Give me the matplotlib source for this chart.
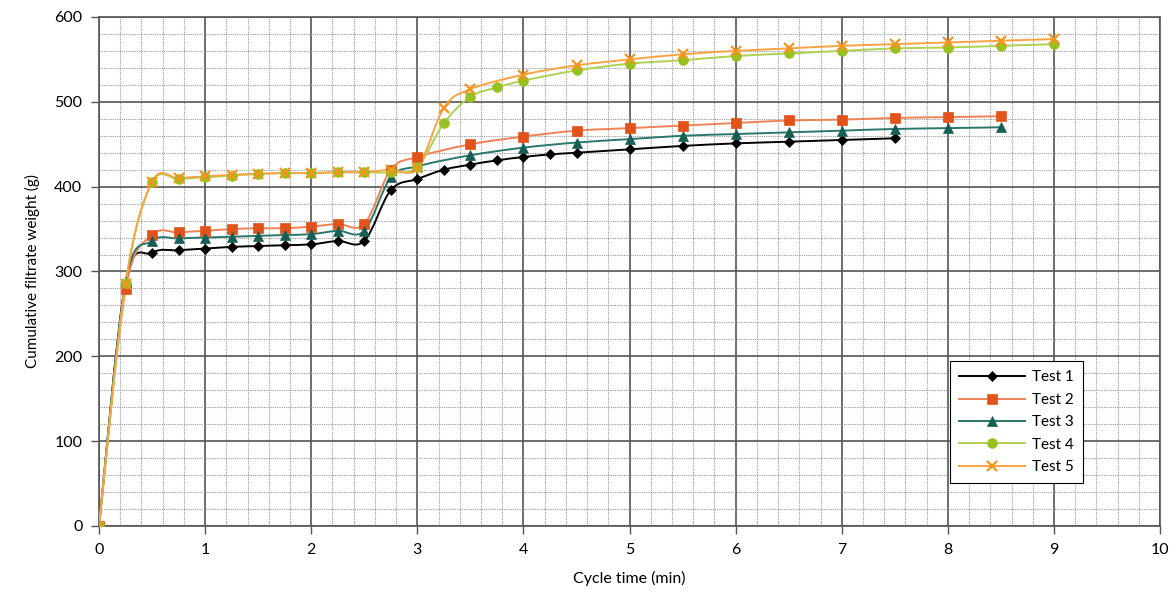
import matplotlib
matplotlib.use('Agg')
import matplotlib.pyplot as plt
from matplotlib.path import Path
from matplotlib.patches import PathPatch
from matplotlib.lines import Line2D
from matplotlib.ticker import MultipleLocator

plt.rcParams['font.family'] = ['Lato', 'DejaVu Sans']

# cycle time (min) and cumulative filtrate weight (g) per test
t1_x = [0, 0.25, 0.5, 0.75, 1, 1.25, 1.5, 1.75, 2, 2.25, 2.5, 2.75, 3, 3.25, 3.5, 3.75, 4, 4.25, 4.5,
        5, 5.5, 6, 6.5, 7, 7.5]
t1_y = [0, 287, 322, 325, 327, 329, 330, 331, 332, 336, 336, 396, 409, 420, 426, 431, 435, 438, 440,
        444, 448, 451, 453, 455, 457]

t2_x = [0, 0.25, 0.5, 0.75, 1, 1.25, 1.5, 1.75, 2, 2.25, 2.5, 2.75, 3, 3.5, 4, 4.5,
        5, 5.5, 6, 6.5, 7, 7.5, 8, 8.5]
t2_y = [0, 279, 343, 346, 348, 350, 351, 351, 353, 356, 356, 420, 435, 450, 459, 466,
        469, 472, 475, 478, 479, 481, 482, 483]

t3_x = [0, 0.25, 0.5, 0.75, 1, 1.25, 1.5, 1.75, 2, 2.25, 2.5, 2.75, 3, 3.5, 4, 4.5,
        5, 5.5, 6, 6.5, 7, 7.5, 8, 8.5]
t3_y = [0, 288, 336, 339, 340, 341, 342, 343, 344, 348, 348, 411, 424, 437, 446, 452,
        456, 460, 462, 464, 466, 468, 469, 470]

t4_x = [0, 0.25, 0.5, 0.75, 1, 1.25, 1.5, 1.75, 2, 2.25, 2.5, 2.75, 3, 3.25, 3.5, 3.75, 4, 4.5,
        5, 5.5, 6, 6.5, 7, 7.5, 8, 8.5, 9]
t4_y = [0, 287, 405, 409, 411, 413, 415, 416, 416, 417, 417, 417, 423, 475, 506, 517, 525, 537,
        545, 549, 554, 557, 560, 563, 564, 566, 568]

t5_x = [0, 0.25, 0.5, 0.75, 1, 1.25, 1.5, 1.75, 2, 2.25, 2.5, 2.75, 3, 3.25, 3.5, 4, 4.5,
        5, 5.5, 6, 6.5, 7, 7.5, 8, 8.5, 9]
t5_y = [0, 285, 406, 410, 412, 414, 415, 416, 416, 417, 417, 420, 422, 493, 515, 532, 543,
        550, 556, 560, 563, 566, 568, 570, 572, 574]

labels = ['Test 1', 'Test 2', 'Test 3', 'Test 4', 'Test 5']


def smooth_path(x, y):
    # excel-like smoothed line: cubic bezier through the points
    n = len(x)
    verts = [(x[0], y[0])]
    codes = [Path.MOVETO]
    for i in range(n - 1):
        a = max(i - 1, 0)
        b = min(i + 2, n - 1)
        c1 = (x[i] + (x[i + 1] - x[a]) / 6, y[i] + (y[i + 1] - y[a]) / 6)
        c2 = (x[i + 1] - (x[b] - x[i]) / 6, y[i + 1] - (y[b] - y[i]) / 6)
        verts += [c1, c2, (x[i + 1], y[i + 1])]
        codes += [Path.CURVE4] * 3
    return Path(verts, codes)


series = [
    (t1_x, t1_y, 'black', 'black', 'D', 5.5),
    (t2_x, t2_y, '#EF8256', '#E2531B', 's', 7),
    (t3_x, t3_y, '#2A776B', '#175F54', '^', 7.5),
    (t4_x, t4_y, '#AFD250', '#97C11E', 'o', 7),
    (t5_x, t5_y, '#FBA343', '#F7931E', 'x', 7),
]

fig = plt.figure(figsize=(11.75, 5.94), dpi=100)
ax = fig.add_axes([0.0843, 0.1145, 0.9030, 0.8569])

handles = []
for (x, y, lc, mc, m, ms), lab in zip(series, labels):
    ax.add_patch(PathPatch(smooth_path(x, y), facecolor='none', edgecolor=lc, lw=1.4, zorder=3))
    ax.plot(x, y, linestyle='none', marker=m, color=mc, markersize=ms,
            markeredgewidth=1.6 if m == 'x' else 0.5, zorder=4)
    handles.append(Line2D([], [], color=lc, lw=1.4, marker=m, markersize=ms,
                          markerfacecolor=mc, markeredgecolor=mc,
                          markeredgewidth=1.6 if m == 'x' else 0.5))

ax.set_xlim(0, 10)
ax.set_ylim(0, 600)
ax.xaxis.set_major_locator(MultipleLocator(1))
ax.xaxis.set_minor_locator(MultipleLocator(0.2))
ax.yaxis.set_major_locator(MultipleLocator(100))
ax.yaxis.set_minor_locator(MultipleLocator(20))
ax.grid(which='major', color='#555555', lw=1.2, zorder=1)
ax.grid(which='minor', color='#9a9a9a', lw=0.8, linestyle=(0, (1, 1)), zorder=1)
ax.set_axisbelow(True)
ax.tick_params(which='major', direction='out', length=6, width=1, color='#555555',
               labelsize=11.5, pad=6)
ax.tick_params(which='minor', length=0)
for s in ax.spines.values():
    s.set_color('#555555')
    s.set_linewidth(1.2)

ax.set_xlabel('Cycle time (min)', fontsize=11.5, labelpad=10)
ax.set_ylabel('Cumulative filtrate weight (g)', fontsize=11, labelpad=10)

leg = ax.legend(handles, labels, loc='lower left', bbox_to_anchor=(0.802, 0.084),
                fancybox=False, framealpha=1, edgecolor='black', fontsize=11,
                handlelength=4.3, handletextpad=0.5, labelspacing=0.55,
                borderpad=0.6, borderaxespad=0)
leg.get_frame().set_linewidth(0.8)

fig.savefig('out.png')
